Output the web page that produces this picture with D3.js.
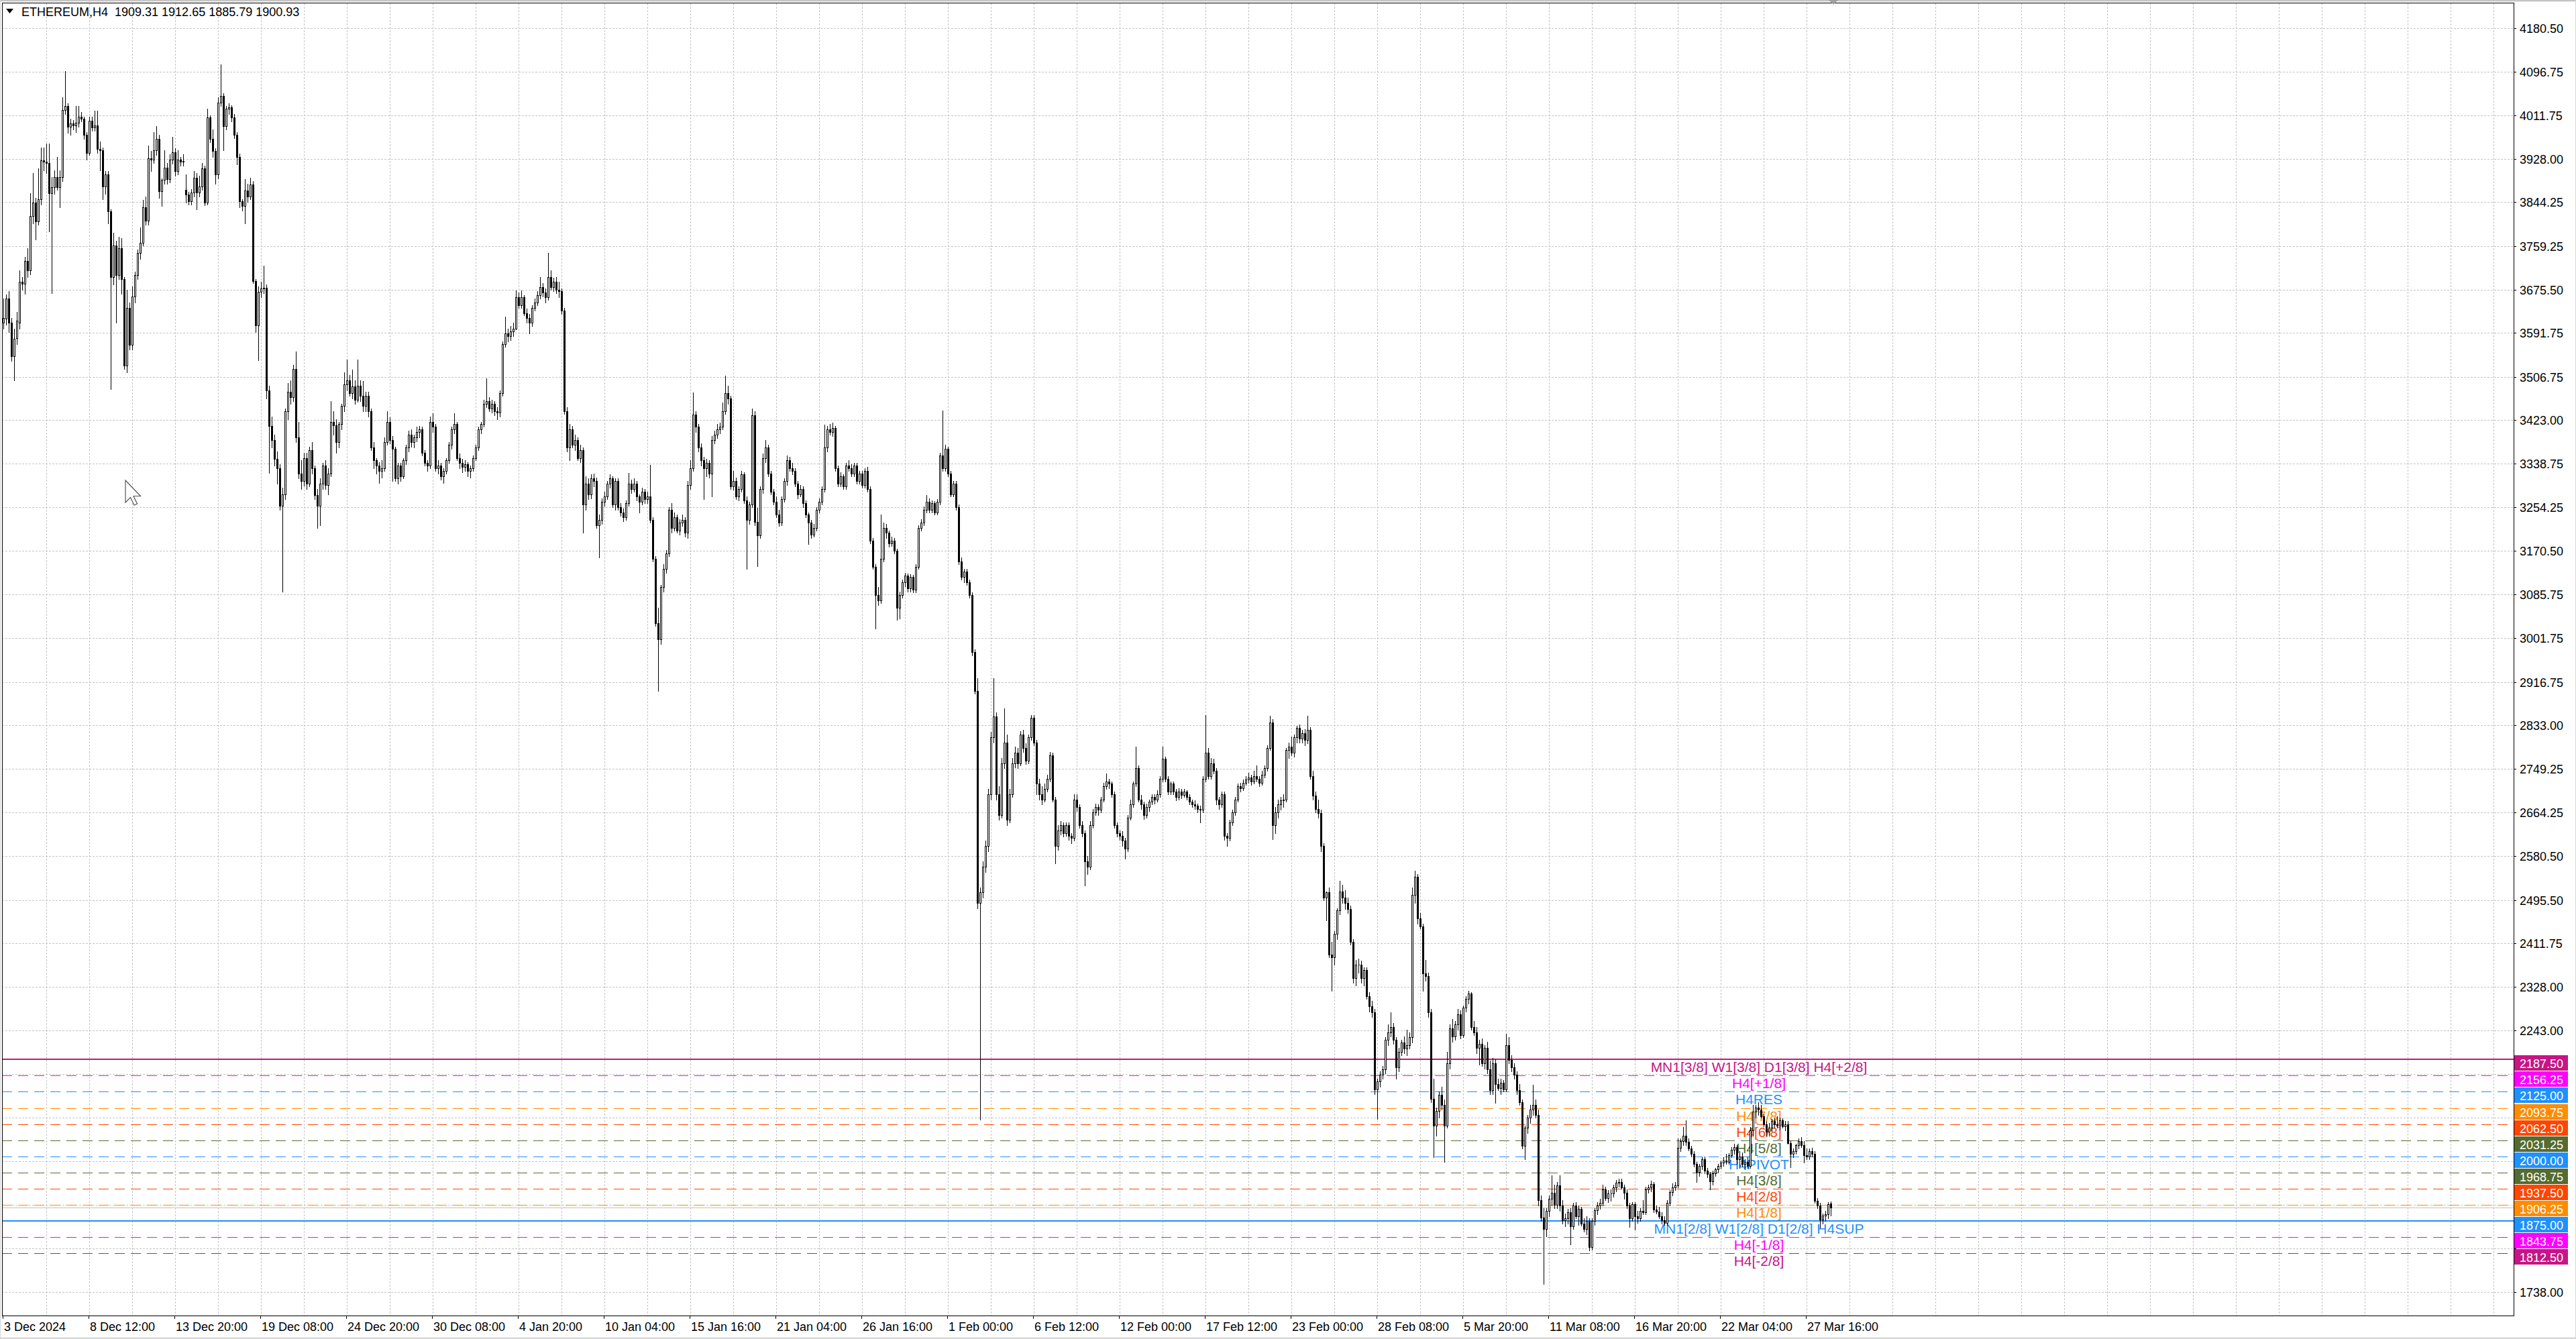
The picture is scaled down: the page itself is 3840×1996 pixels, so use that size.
<!DOCTYPE html>
<html><head><meta charset="utf-8">
<script src="https://cdn.jsdelivr.net/npm/d3@7"></script>
<style>html,body{margin:0;padding:0;background:#fff;overflow:hidden;} svg{display:block;}</style>
</head><body><svg id="c" width="3840" height="1996"></svg>
<script>
// ---- DATA: H4 candles [open, high, low, close] ----
const dec = [
[3612,3658,3600,3620],[3619,3666,3608,3658],[3658,3672,3593,3612],[3612,3620,3537,3546],[3546,3600,3500,3580],[3582,3632,3570,3615],[3612,3712,3600,3690],[3690,3699,3675,3686],[3686,3738,3667,3731],[3731,3755,3700,3712],
[3712,3861,3705,3818],[3818,3900,3803,3844],[3844,3852,3772,3807],[3807,3909,3800,3850],[3850,3950,3840,3925],[3925,3950,3906,3922],[3922,3958,3900,3920],[3920,3958,3788,3861],[3861,3893,3669,3873],[3873,3906,3860,3893],
[3893,3932,3868,3873],[3873,3906,3835,3893],[3893,4047,3885,4022],[4022,4097,4014,4030],[4030,4035,3978,3990],[3990,4005,3975,3997],[3997,4003,3985,3993],[3993,4030,3980,3998],[3998,4030,3990,4010],[4010,4019,4000,4006],
[4006,4010,3967,3975],[3975,3980,3927,3940],[3940,4009,3935,4002],[4002,4010,3982,3988],[3988,4021,3982,3993],[3993,4021,3940,3947],[3947,3962,3906,3945],[3945,3950,3850,3874],[3874,3905,3860,3898],[3898,3905,3803,3826],
[3826,3830,3483,3699],[3699,3785,3685,3761],[3761,3770,3612,3703],[3703,3777,3695,3755],[3755,3775,3667,3695],[3695,3700,3522,3528],[3528,3675,3515,3640],[3640,3650,3560,3569],[3569,3681,3560,3662],[3662,3710,3650,3703],
[3703,3753,3695,3746],[3746,3796,3735,3766],[3766,3848,3760,3835],[3835,3855,3800,3809],[3809,3954,3800,3929],[3929,3943,3904,3927],[3927,3980,3920,3945],[3945,3991,3935,3966],[3966,3975,3852,3865],[3865,3890,3837,3887],
[3887,3944,3880,3911],[3911,3920,3880,3889],[3889,3937,3882,3926],[3926,3971,3918,3941],[3941,3948,3895,3904],[3904,3945,3898,3926],[3926,3932,3915,3922],[3922,3937,3915,3924],[3868,3898,3844,3859],[3859,3864,3840,3846],
[3846,3870,3840,3863],[3863,3905,3855,3892],[3892,3900,3831,3863],[3863,3895,3855,3874],[3874,3920,3868,3910],[3910,3915,3838,3844],[3844,4025,3840,4008],[4008,4012,3960,3967],[3967,3985,3932,3943],[3943,3948,3880,3898],
[3898,4047,3890,4036],[4036,4110,4030,4049],[4049,4055,3945,3991],[3991,4030,3985,4025],[4025,4035,4015,4028],[4028,4032,4000,4008],[4008,4015,3968,3975],[3975,3980,3917,3932],[3932,3938,3835,3846],[3846,3850,3828,3837],
[3837,3889,3803,3867],[3867,3880,3845,3855],[3855,3891,3850,3878],[3878,3885,3688,3692],[3692,3695,3593,3606],[3606,3682,3539,3671],[3671,3690,3660,3677],[3677,3721,3668,3679],[3679,3685,3465,3480],[3480,3490,3321,3412],
[3412,3430,3370,3385],[3385,3395,3335,3348],[3348,3362,3300,3330],[3330,3338,3250,3258],[3258,3292,3091,3280],[3280,3445,3270,3440],[3440,3495,3425,3478],[3478,3500,3455,3468],[3468,3530,3460,3522],[3522,3555,3380,3390],
[3390,3420,3310,3320],[3320,3345,3290,3305],[3305,3360,3296,3350],[3350,3360,3290,3300],[3300,3372,3295,3365],[3365,3380,3320,3330],[3330,3335,3270,3278],[3278,3290,3214,3258],[3258,3310,3220,3300],[3300,3340,3290,3335],
[3335,3345,3290,3297],[3297,3330,3280,3320],[3320,3460,3315,3420],[3420,3440,3395,3413],[3413,3425,3360,3380],[3380,3420,3370,3415],[3415,3455,3405,3450],[3450,3516,3440,3492],[3492,3540,3480,3500],[3500,3510,3470,3475],
[3475,3520,3465,3488],[3488,3500,3455,3462],[3462,3540,3458,3490],[3490,3500,3460,3470],[3470,3498,3440,3450],[3450,3478,3440,3470],[3470,3478,3430,3440],[3440,3445,3365,3370],[3370,3380,3330,3345],[3345,3350,3320,3335],
[3335,3342,3301,3325],[3325,3345,3312,3330],[3330,3390,3325,3380],[3380,3440,3375,3420],[3420,3428,3378,3385],[3385,3392,3305,3368],[3368,3372,3305,3310],[3310,3340,3300,3335],[3335,3340,3305,3315],[3315,3350,3310,3345],
[3345,3375,3338,3370],[3370,3402,3362,3395],[3395,3405,3372,3380],[3380,3395,3370,3390],[3390,3410,3382,3400],[3400,3412,3390,3405],[3405,3410,3355,3360],[3360,3365,3335,3340],[3340,3345,3325,3335],[3335,3430,3330,3420],
[3420,3436,3400,3410],[3410,3415,3325,3330],[3330,3345,3320,3335],[3335,3340,3308,3315],[3315,3330,3301,3325],[3325,3350,3320,3345],[3345,3380,3340,3375],[3375,3410,3368,3405],[3405,3436,3398,3415],[3415,3420,3345,3350],
[3350,3358,3330,3340],[3340,3348,3322,3332],[3332,3345,3325,3338],[3338,3342,3315,3325]
];
const jan = [
[3325,3335,3312,3330],[3330,3355,3325,3350],[3350,3375,3345,3370],[3370,3410,3365,3405],[3405,3420,3398,3415],[3415,3462,3410,3455],
[3455,3504,3448,3460],[3460,3468,3440,3445],[3445,3462,3438,3455],[3455,3460,3432,3440],[3440,3448,3425,3438],[3438,3480,3430,3475],[3475,3575,3470,3570],[3570,3623,3565,3590],[3590,3600,3575,3585],[3585,3605,3578,3595],
[3595,3612,3585,3600],[3600,3674,3598,3660],[3660,3670,3640,3645],[3645,3674,3640,3660],[3660,3665,3625,3630],[3630,3638,3612,3620],[3620,3628,3590,3612],[3612,3645,3605,3640],[3640,3658,3635,3650],[3650,3672,3645,3665],
[3665,3700,3658,3680],[3680,3688,3662,3670],[3670,3678,3650,3660],[3660,3746,3655,3700],[3700,3712,3675,3680],[3680,3698,3672,3690],[3690,3700,3668,3675],[3675,3690,3660,3672],[3672,3678,3628,3635],[3635,3640,3435,3440],
[3440,3448,3362,3370],[3370,3415,3345,3405],[3405,3412,3370,3375],[3375,3395,3365,3385],[3385,3390,3345,3350],[3350,3375,3342,3365],[3365,3370,3206,3260],[3260,3315,3250,3300],[3300,3310,3270,3280],[3280,3318,3272,3310],
[3310,3320,3295,3305],[3305,3312,3215,3220],[3220,3240,3158,3230],[3230,3272,3222,3265],[3265,3285,3258,3275],[3275,3305,3270,3300],[3300,3318,3292,3310],[3310,3315,3255,3260],[3260,3310,3250,3305],[3305,3310,3250,3255],
[3255,3262,3238,3245],[3245,3252,3228,3235],[3235,3268,3230,3262],[3262,3321,3258,3300],[3300,3308,3282,3290],[3290,3310,3285,3300],[3300,3305,3268,3275],[3275,3280,3245,3265],[3265,3292,3260,3285],[3285,3290,3262,3270],
[3270,3285,3262,3275],[3275,3337,3225,3230],[3230,3235,3150,3155],[3155,3160,3025,3030],[3030,3060,2900,3000],[3000,3105,2990,3100],[3100,3145,3092,3135],[3135,3172,3128,3165],[3165,3255,3160,3250],[3250,3262,3205,3215],
[3215,3245,3210,3235],[3235,3240,3205,3210],[3210,3232,3202,3225],[3225,3240,3218,3230],[3230,3235,3198,3205],[3205,3305,3195,3298],[3298,3345,3290,3330],[3330,3476,3325,3434],[3434,3440,3400,3410],[3410,3415,3362,3370],
[3370,3378,3335,3345],[3345,3352,3270,3330],[3330,3348,3315,3340],[3340,3345,3312,3320],[3320,3392,3275,3385],[3385,3402,3378,3395],[3395,3415,3388,3405],[3405,3418,3398,3410],[3410,3457,3405,3440],[3440,3509,3435,3475],
[3475,3490,3455,3465],[3465,3470,3290,3295],[3295,3325,3288,3305],[3305,3312,3270,3275],[3275,3295,3268,3290],[3290,3325,3285,3318],[3318,3322,3262,3268],[3268,3275,3136,3230],[3230,3265,3222,3260],[3260,3445,3255,3432],
[3432,3440,3220,3226],[3226,3254,3141,3200],[3200,3295,3195,3290],[3290,3358,3282,3350],[3350,3385,3342,3370],[3370,3375,3315,3320],[3320,3325,3280,3285],[3285,3290,3260,3265],[3265,3275,3235,3240],[3240,3250,3218,3225],
[3225,3275,3220,3270],[3270,3310,3265,3305],[3305,3355,3298,3345],[3345,3352,3325,3330],[3330,3340,3318,3325],[3325,3330,3295,3300],[3300,3305,3272,3280],[3280,3298,3275,3290],[3290,3295,3255,3262],[3262,3268,3235,3240],
[3240,3245,3184,3225],[3225,3230,3195,3202],[3202,3222,3198,3215],[3215,3255,3210,3250],[3250,3272,3245,3265],[3265,3295,3260,3290],[3290,3414,3285,3370],[3370,3412,3362,3405],[3405,3415,3395,3400],[3400,3418,3392,3408],
[3408,3412,3325,3330],[3330,3335,3295,3300],[3300,3322,3295,3315],[3315,3318,3290,3295],[3295,3340,3290,3335],[3335,3345,3325,3330],[3330,3338,3315,3320],[3320,3340,3315,3335],[3335,3340,3300,3305],[3305,3325,3300,3320],
[3320,3325,3292,3298],[3298,3330,3292,3325],[3325,3332,3285,3290],[3290,3295,3185,3190],[3190,3195,3135,3140],[3140,3145,3020,3085],[3085,3100,3065,3075],[3075,3240,3070,3155],[3155,3225,3150,3215],[3215,3222,3195,3205],
[3205,3210,3178,3185],[3185,3198,3180,3190],[3190,3195,3165,3170],[3170,3175,3037,3060],[3060,3092,3040,3085],[3085,3115,3080,3110],[3110,3128,3102,3122],[3122,3126,3092,3098],[3098,3125,3092,3120],[3120,3124,3090,3095],
[3095,3145,3090,3140],[3140,3220,3135,3215],[3215,3232,3210,3225],[3225,3256,3220,3250],[3250,3278,3245,3265],[3265,3272,3245,3250],[3250,3268,3245,3262],[3262,3266,3240,3245],[3245,3270,3240,3265],[3265,3360,3260,3355],
[3355,3441,3325,3330],[3330,3375,3325,3368],[3368,3372,3315,3320],[3320,3325,3275,3280],[3280,3305,3275,3300],[3300,3305,3250,3255],[3255,3260,3145,3150],[3150,3158,3115,3120],[3120,3135,3110,3130],[3130,3135,3105,3110]
];
const feb = [
[3110,3115,3080,3085],[3085,3090,2968,2975],[2975,2980,2895,2900],[2900,2924,2480,2490],[2490,2520,2071,2510],[2510,2570,2500,2560],[2560,2610,2550,2600],[2600,2710,2590,2700],[2700,2820,2690,2810],[2810,2924,2800,2850],
[2850,2858,2690,2700],[2700,2715,2650,2660],[2660,2770,2655,2760],[2760,2866,2750,2800],[2800,2815,2640,2650],[2650,2710,2645,2700],[2700,2770,2695,2760],[2760,2792,2752,2780],[2780,2790,2750,2760],[2760,2822,2755,2815],
[2815,2825,2782,2790],[2790,2798,2758,2765],[2765,2815,2760,2810],[2810,2853,2805,2848],[2848,2853,2795,2800],[2800,2805,2700,2720],[2720,2730,2690,2700],[2700,2715,2680,2690],[2690,2720,2685,2710],[2710,2738,2705,2730],
[2730,2782,2725,2775],[2775,2780,2685,2690],[2690,2695,2566,2600],[2600,2640,2592,2630],[2630,2648,2622,2640],[2640,2645,2618,2625],[2625,2645,2620,2640],[2640,2645,2612,2620],[2620,2625,2605,2615],[2615,2700,2610,2690],
[2690,2700,2668,2675],[2675,2680,2635,2640],[2640,2648,2618,2625],[2625,2630,2523,2570],[2570,2580,2545,2560],[2560,2648,2555,2640],[2640,2672,2635,2665],[2665,2682,2660,2675],[2675,2680,2660,2670],[2670,2695,2665,2690],
[2690,2722,2685,2715],[2715,2740,2710,2725],[2725,2730,2712,2720],[2720,2725,2695,2700],[2700,2705,2635,2640],[2640,2645,2618,2625],[2625,2630,2612,2620],[2620,2628,2600,2610],[2610,2615,2575,2595],[2595,2660,2590,2655],
[2655,2690,2650,2680],[2680,2725,2675,2720],[2720,2792,2715,2750],[2750,2755,2685,2690],[2690,2698,2672,2680],[2680,2685,2652,2660],[2660,2682,2655,2675],[2675,2690,2668,2685],[2685,2700,2680,2695],[2695,2700,2682,2690],
[2690,2708,2685,2700],[2700,2735,2695,2730],[2730,2792,2725,2768],[2768,2772,2725,2730],[2730,2735,2700,2705],[2705,2725,2700,2720],[2720,2725,2700,2705],[2705,2710,2688,2695],[2695,2712,2690,2705],[2705,2710,2692,2698],
[2698,2710,2695,2705],[2705,2708,2690,2695],[2695,2700,2680,2685],[2685,2690,2675,2680],[2680,2688,2672,2678],[2678,2682,2665,2672],[2672,2678,2645,2670],[2670,2735,2665,2730],[2730,2853,2725,2780],[2780,2790,2730,2735],
[2735,2770,2730,2760],[2760,2768,2740,2745],[2745,2750,2680,2690],[2690,2695,2672,2680],[2680,2705,2675,2700],[2700,2705,2612,2620],[2620,2625,2600,2615],[2615,2650,2610,2645],[2645,2670,2640,2665],[2665,2695,2660,2690],
[2690,2720,2685,2715],[2715,2722,2705,2712],[2712,2728,2708,2722],[2722,2735,2718,2728],[2728,2742,2722,2732],[2732,2738,2718,2725],[2725,2745,2720,2735],[2735,2755,2725,2730],[2730,2735,2715,2722],[2722,2745,2718,2738],
[2738,2755,2732,2750],[2750,2795,2745,2790],[2790,2852,2785,2838],[2838,2845,2613,2640],[2640,2675,2625,2665],[2665,2690,2655,2680],[2680,2695,2670,2688],[2688,2700,2675,2690],[2690,2790,2685,2785],[2785,2800,2770,2792],
[2792,2812,2775,2780],[2780,2815,2772,2810],[2810,2832,2800,2828],[2828,2835,2800,2808],[2808,2825,2800,2818],[2818,2826,2795,2805],[2805,2852,2798,2825],[2825,2830,2730,2735],[2735,2745,2690,2697],[2697,2705,2665,2672],
[2672,2690,2655,2664],[2664,2670,2590,2600],[2600,2605,2495,2500],[2500,2512,2456,2510],[2510,2520,2385,2390],[2390,2415,2320,2385],[2385,2435,2370,2430],[2430,2480,2420,2475],[2475,2533,2468,2512],[2512,2525,2490,2500],
[2500,2515,2478,2490],[2490,2500,2470,2478],[2478,2485,2410,2415],[2415,2420,2335,2345],[2345,2380,2330,2370],[2370,2382,2355,2370],[2370,2378,2335,2345],[2345,2365,2330,2360],[2360,2365,2305,2310],[2310,2318,2280,2290],
[2290,2300,2270,2278],[2278,2285,2120,2130],[2130,2150,2073,2145],[2145,2165,2135,2158],[2158,2175,2150,2168],[2168,2230,2160,2225],[2225,2255,2215,2240],[2240,2278,2232,2250],[2250,2258,2218,2225],[2225,2230,2150,2172],
[2172,2210,2165,2202],[2202,2225,2195,2220],[2220,2232,2200,2208],[2208,2245,2195,2215],[2215,2240,2208,2230],[2230,2520,2220,2506],[2506,2552,2490,2540],[2540,2545,2450,2460]
];
const mar = [
[2460,2470,2440,2445],[2445,2450,2320,2354],
[2354,2380,2340,2348],[2348,2355,2270,2278],[2278,2285,2105,2111],[2111,2150,1998,2060],[2060,2095,2040,2088],[2088,2125,2075,2119],[2119,2135,2090,2100],[2100,2110,1989,2060],[2060,2202,2055,2180],[2180,2255,2170,2248],
[2248,2265,2222,2232],[2232,2262,2225,2255],[2255,2285,2245,2275],[2275,2282,2228,2235],[2235,2292,2230,2288],[2288,2310,2280,2305],[2305,2320,2295,2315],[2315,2318,2245,2250],[2250,2262,2235,2240],[2240,2250,2200,2210],
[2210,2225,2178,2218],[2218,2228,2175,2180],[2180,2215,2170,2210],[2210,2222,2160,2168],[2168,2185,2120,2128],[2128,2190,2120,2180],[2180,2188,2103,2140],[2140,2150,2128,2132],[2132,2150,2120,2142],[2142,2148,2125,2130],
[2130,2237,2125,2215],[2215,2230,2180,2186],[2186,2195,2165,2172],[2172,2180,2150,2158],[2158,2165,2120,2128],[2128,2140,2100,2105],[2105,2110,2015,2020],[2020,2060,1995,2055],[2055,2080,2045,2075],[2075,2100,2065,2090],
[2090,2138,2080,2100],[2100,2110,2075,2080],[2080,2090,1905,1915],[1915,1925,1875,1882],[1882,1900,1754,1860],[1860,1900,1845,1895],[1895,1925,1885,1918],[1918,1963,1905,1930],[1930,1945,1900,1906],[1906,1950,1900,1944],
[1944,1963,1895,1905],[1905,1915,1870,1876],[1876,1890,1865,1880],[1880,1898,1870,1892],[1892,1900,1830,1865],[1865,1910,1860,1905],[1905,1912,1880,1885],[1885,1905,1868,1898],[1898,1902,1866,1870],[1870,1880,1855,1860],
[1860,1885,1850,1875],[1875,1880,1818,1825],[1825,1880,1820,1875],[1875,1900,1868,1896],[1896,1912,1888,1905],[1905,1918,1898,1910],[1910,1945,1905,1936],[1936,1942,1915,1920],[1920,1935,1912,1928],[1928,1936,1914,1929],
[1929,1945,1922,1940],[1940,1955,1933,1949],[1949,1957,1942,1951],[1951,1957,1938,1940],[1940,1945,1918,1930],[1930,1936,1900,1905],[1905,1910,1864,1880],[1880,1912,1875,1908],[1908,1912,1858,1884],[1884,1895,1872,1880],
[1880,1900,1875,1895],[1895,1915,1888,1892],[1892,1942,1888,1936],[1936,1945,1930,1940],[1940,1953,1932,1946],[1946,1950,1892,1897],[1897,1905,1890,1894],[1894,1902,1880,1885],[1885,1892,1870,1877],[1877,1885,1868,1872],
[1872,1915,1868,1910],[1910,1935,1905,1931],[1931,1948,1925,1940],[1940,1950,1935,1944],[1944,2035,1940,2016],[2016,2035,2010,2029],[2029,2057,2022,2040],[2040,2070,2022,2028],[2028,2035,2012,2015],[2015,2020,2000,2005],
[2005,2010,1980,1985],[1985,1990,1951,1970],[1970,1985,1962,1981],[1981,1998,1975,1994],[1994,2000,1968,1972],[1972,1978,1960,1966],[1966,1970,1936,1952],[1952,1972,1945,1968],[1968,1978,1962,1975],[1975,1985,1970,1981],
[1981,1992,1976,1988],[1988,1998,1982,1992],[1992,2005,1985,1990],[1990,2006,1985,2003],[2003,2018,1998,2013],[2013,2025,2005,2018],[2018,2022,1985,1995],[1995,2010,1978,2000],[2000,2008,1980,1985],[1985,1995,1975,1990],
[1990,2000,1978,1982],[1982,2057,1978,2050],[2050,2100,2040,2087],[2087,2100,2075,2095],[2095,2105,2080,2090],[2090,2100,2075,2078],[2078,2082,2058,2062],[2062,2068,2040,2048],[2048,2065,2040,2055],[2055,2072,2050,2068],
[2068,2075,2055,2062],[2062,2078,2055,2060],[2060,2075,2052,2070],[2070,2074,2055,2058],[2058,2068,2050,2062],[2062,2068,2024,2026],[2026,2030,1979,2005],[2005,2015,1998,2010],[2010,2025,2005,2022],[2022,2035,2015,2030],
[2030,2037,2018,2022],[2022,2030,1988,2003],[2003,2015,1995,2000],[2000,2015,1995,2010],[2010,2016,2000,2005],[2005,2010,1910,1914],[1914,1920,1900,1905],[1905,1910,1862,1878],[1878,1890,1870,1886],[1886,1895,1875,1888],
[1888,1912,1880,1908],[1909.31,1912.65,1885.79,1900.93]
];

const xTickLabels = ["3 Dec 2024","8 Dec 12:00","13 Dec 20:00","19 Dec 08:00","24 Dec 20:00","30 Dec 08:00","4 Jan 20:00","10 Jan 04:00","15 Jan 16:00","21 Jan 04:00","26 Jan 16:00","1 Feb 00:00","6 Feb 12:00","12 Feb 00:00","17 Feb 12:00","23 Feb 00:00","28 Feb 08:00","5 Mar 20:00","11 Mar 08:00","16 Mar 20:00","22 Mar 04:00","27 Mar 16:00"];
const xTickEvery = 32; // bars between time labels
// price grid levels; the ones under the coloured level boxes have no visible label
const yTickValues = [4180.50,4096.75,4011.75,3928.00,3844.25,3759.25,3675.50,3591.75,3506.75,3423.00,3338.75,3254.25,3170.50,3085.75,3001.75,2916.75,2833.00,2749.25,2664.25,2580.50,2495.50,2411.75,2328.00,2243.00,2158.75,2074.50,1990.50,1906.25,1822.25,1738.00];
const yTickLabelled = [4180.50,4096.75,4011.75,3928.00,3844.25,3759.25,3675.50,3591.75,3506.75,3423.00,3338.75,3254.25,3170.50,3085.75,3001.75,2916.75,2833.00,2749.25,2664.25,2580.50,2495.50,2411.75,2328.00,2243.00,1738.00];

const levelPrices = [2187.50,2156.25,2125.00,2093.75,2062.50,2031.25,2000.00,1968.75,1937.50,1906.25,1875.00,1843.75,1812.50];
const levelLabels = ["MN1[3/8] W1[3/8] D1[3/8] H4[+2/8]","H4[+1/8]","H4RES","H4[7/8]","H4[6/8]","H4[5/8]","H4PIVOT","H4[3/8]","H4[2/8]","H4[1/8]","MN1[2/8] W1[2/8] D1[2/8] H4SUP","H4[-1/8]","H4[-2/8]"];
const levelColors = ["#C71585","#FF00FF","#1E90FF","#FF8C00","#FF4500","#556B2F","#1E90FF","#556B2F","#FF4500","#FF8C00","#1E90FF","#FF00FF","#C71585"];
const levelSolid = [true,false,false,false,false,false,false,false,false,false,true,false,false];

const headerSymbol = "ETHEREUM,H4";
const headerOHLC = ["1909.31","1912.65","1885.79","1900.93"];
const bidPrice = 1900.93;

// ---- DRAW ----
const FONT = "'Liberation Sans', Arial, sans-serif";
const candles = dec.concat(jan, feb, mar).map((r, i) => ({i, o:r[0], h:r[1], l:r[2], c:r[3]}));
const L = 3, T = 5, R = 3747, B = 1961;
const x = d3.scaleLinear().domain([0, 1]).range([5, 9]);
const y = d3.scaleLinear().domain([1692.5, 4227.2]).range([B, T + 1]);
const svg = d3.select("#c");
const px = v => Math.round(v) + 0.5;

svg.append("rect").attr("width", 3840).attr("height", 1996).attr("fill", "#fff");
// outer window frame
svg.append("rect").attr("x", 0).attr("y", 0).attr("width", 3840).attr("height", 2).attr("fill", "#a9a9a9");
svg.append("rect").attr("x", 0.5).attr("y", 0.5).attr("width", 3839).attr("height", 1995).attr("fill", "none").attr("stroke", "#d6d6d6");
svg.append("line").attr("x1", 0).attr("x2", 3840).attr("y1", 1994.5).attr("y2", 1994.5).attr("stroke", "#d9d9d9").attr("stroke-width", 2);

const grid = svg.append("g").attr("stroke", "#c4c4c4").attr("stroke-dasharray", "3,2").attr("shape-rendering", "crispEdges");
grid.selectAll("line.h").data(yTickValues).join("line").attr("class", "h")
  .attr("x1", L).attr("x2", R).attr("y1", d => px(y(d))).attr("y2", d => px(y(d)));
const vIdx = d3.range(16, 3800 / 4, 16).filter(k => x(k) < R - 2);
grid.selectAll("line.v").data(vIdx).join("line").attr("class", "v")
  .attr("y1", T).attr("y2", B).attr("x1", d => px(x(d))).attr("x2", d => px(x(d)));

// bid line
svg.append("line").attr("x1", L).attr("x2", R).attr("y1", px(y(bidPrice))).attr("y2", px(y(bidPrice)))
  .attr("stroke", "#c0c0c0").attr("shape-rendering", "crispEdges");

// level lines
const lev = levelPrices.map((p, k) => ({p, label: levelLabels[k], color: levelColors[k], solid: levelSolid[k]}));
svg.append("g").selectAll("line").data(lev).join("line")
  .attr("x1", L).attr("x2", R)
  .attr("y1", d => d.solid ? Math.round(y(d.p)) : px(y(d.p)))
  .attr("y2", d => d.solid ? Math.round(y(d.p)) : px(y(d.p)))
  .attr("stroke", d => d.color).attr("stroke-width", d => d.solid ? 2 : 1)
  .attr("stroke-dasharray", d => d.solid ? null : "15,9").attr("shape-rendering", "crispEdges");

// level texts
svg.append("g").selectAll("text").data(lev).join("text")
  .attr("x", 2622).attr("y", d => y(d.p) + 19).attr("text-anchor", "middle")
  .attr("font-family", FONT).attr("font-size", 21).attr("fill", d => d.color).text(d => d.label);

// candles
const cg = svg.append("g").attr("shape-rendering", "crispEdges");
cg.selectAll("line").data(candles).join("line")
  .attr("x1", d => Math.round(x(d.i)) + 0.5).attr("x2", d => Math.round(x(d.i)) + 0.5)
  .attr("y1", d => Math.round(y(d.h))).attr("y2", d => Math.round(y(d.l)) + 1)
  .attr("stroke", "#000");
cg.selectAll("path").data(candles).join("path")
  .attr("d", d => {
    const cx = Math.round(x(d.i));
    const top = Math.round(y(Math.max(d.o, d.c))) + 0.5;
    const bot = Math.round(y(Math.min(d.o, d.c))) + 0.5;
    return `M${cx - 0.5},${top}H${cx + 1.5}V${bot}H${cx - 0.5}Z`;
  })
  .attr("fill", d => d.c >= d.o ? "#fff" : "#000").attr("stroke", "#000");

// plot frame
svg.append("rect").attr("x", L + 0.5).attr("y", T - 0.5).attr("width", R - L).attr("height", B - T + 1)
  .attr("fill", "none").attr("stroke", "#000").attr("shape-rendering", "crispEdges");

// right axis ticks and labels
const ya = svg.append("g");
ya.selectAll("line").data(yTickValues).join("line")
  .attr("x1", R).attr("x2", R + 4).attr("y1", d => px(y(d))).attr("y2", d => px(y(d)))
  .attr("stroke", "#000").attr("shape-rendering", "crispEdges");
ya.selectAll("text").data(yTickLabelled).join("text")
  .attr("x", 3756).attr("y", d => Math.round(y(d)) + 7)
  .attr("font-family", FONT).attr("font-size", 18).attr("fill", "#000")
  .text(d => d3.format(".2f")(d));

// coloured price boxes
const bx = svg.append("g");
bx.selectAll("rect").data(lev).join("rect")
  .attr("x", 3748).attr("y", d => Math.round(y(d.p)) - 6).attr("width", 80).attr("height", 23)
  .attr("fill", d => d.color);
bx.selectAll("text").data(lev).join("text")
  .attr("x", 3756).attr("y", d => Math.round(y(d.p)) + 13)
  .attr("font-family", FONT).attr("font-size", 18).attr("fill", "#fff")
  .text(d => d3.format(".2f")(d.p));

// bottom axis labels
const xa = svg.append("g");
const xt = xTickLabels.map((t, k) => ({t, i: k * xTickEvery}));
xa.selectAll("line").data(xt).join("line")
  .attr("x1", d => px(x(d.i)) - 1).attr("x2", d => px(x(d.i)) - 1).attr("y1", B).attr("y2", B + 5)
  .attr("stroke", "#000").attr("shape-rendering", "crispEdges");
xa.selectAll("text").data(xt).join("text")
  .attr("x", d => x(d.i) + 1).attr("y", 1984)
  .attr("font-family", FONT).attr("font-size", 18).attr("fill", "#000").text(d => d.t);

// header
svg.append("path").attr("d", "M9,13H20L14.5,20Z").attr("fill", "#000");
svg.append("text").attr("x", 32).attr("y", 24).attr("font-family", FONT).attr("font-size", 18).attr("fill", "#000")
  .attr("xml:space", "preserve").text(headerSymbol + "  " + headerOHLC.join(" "));

// chart-shift marker
svg.append("path").attr("d", "M2726,0H2740L2733,7Z").attr("fill", "#a0a0a0");

// mouse cursor
svg.append("path")
  .attr("d", "M187,716 L187,749 L194.5,741.5 L200,753 L204.5,751 L199,739.5 L209.5,739.5 Z")
  .attr("fill", "#fff").attr("stroke", "#555").attr("stroke-width", 1.2);
</script>
</body></html>
